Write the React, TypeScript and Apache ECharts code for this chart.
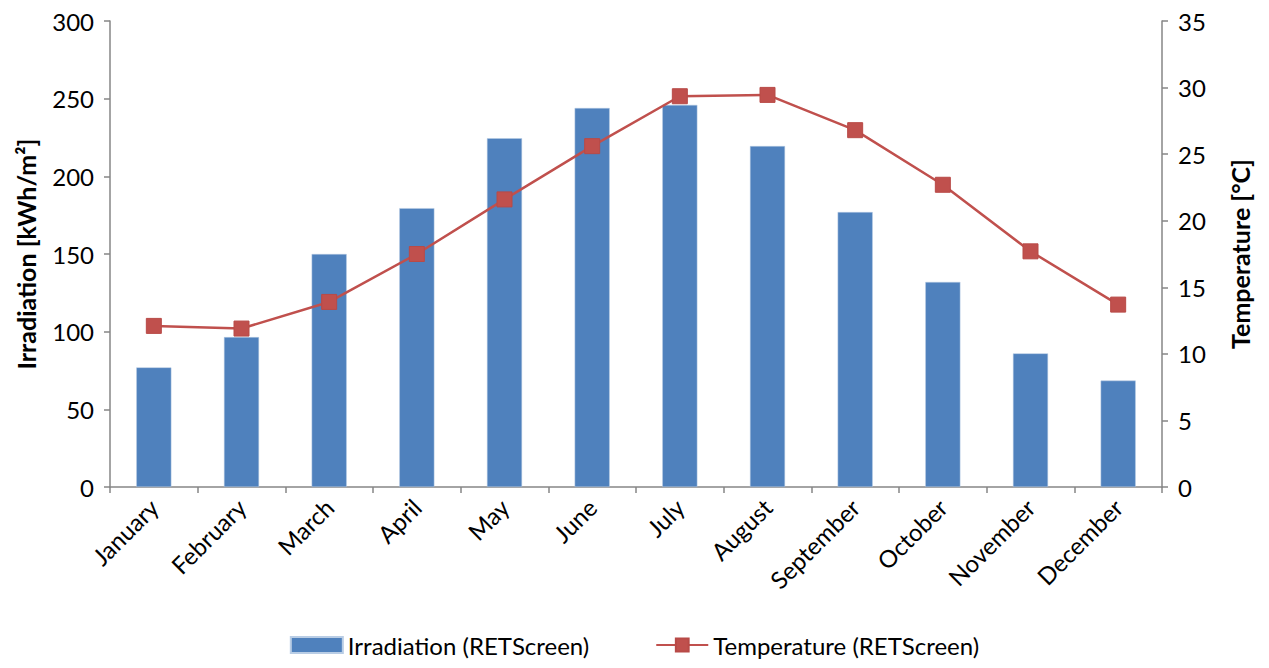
import React, { useEffect, useRef } from "react";
import * as echarts from "echarts";

const months = [
  "January", "February", "March", "April", "May", "June",
  "July", "August", "September", "October", "November", "December",
];
const irradiation = [77, 96.5, 150, 179.5, 224.5, 244, 246, 219.5, 177, 132, 86, 68.5];
const temperature = [12.1, 11.9, 13.9, 17.5, 21.6, 25.6, 29.35, 29.45, 26.8, 22.7, 17.7, 13.7];

const FONT = "Lato";
const AXIS_GRAY = "#868686";

export default function App() {
  const ref = useRef<HTMLDivElement>(null);

  useEffect(() => {
    if (!ref.current) return;
    const chart = echarts.init(ref.current, null, { renderer: "svg" });
    const axisLine = { show: true, lineStyle: { color: AXIS_GRAY, width: 1.5 } };
    const axisTick = { show: true, length: 6, lineStyle: { color: AXIS_GRAY, width: 1.5 } };
    const tickText = { fontFamily: FONT, fontSize: 24, color: "#000" };
    const nameText = { fontFamily: FONT, fontSize: 25, fontWeight: "bold", color: "#000" };
    chart.setOption({
      animation: false,
      textStyle: { fontFamily: FONT },
      grid: {
        left: 102,
        right: 99,
        top: 13,
        bottom: 173,
        containLabel: false,
        outerBoundsMode: "none",
      },
      legend: {
        top: 620,
        left: "center",
        itemGap: 66,
        itemWidth: 52,
        itemHeight: 16,
        textStyle: { fontFamily: FONT, fontSize: 24, color: "#000" },
        data: [
          { name: "Irradiation (RETScreen)", icon: "rect" },
          { name: "Temperature (RETScreen)" },
        ],
      },
      xAxis: {
        type: "category",
        data: months,
        axisLine,
        axisTick: { ...axisTick, alignWithLabel: false },
        axisLabel: { ...tickText, rotate: 45, margin: 16, interval: 0 },
      },
      yAxis: [
        {
          type: "value",
          min: 0,
          max: 300,
          interval: 50,
          name: "Irradiation [kWh/m²]",
          nameLocation: "middle",
          nameRotate: 90,
          nameGap: 72,
          nameTextStyle: nameText,
          axisLine,
          axisTick,
          splitLine: { show: false },
          axisLabel: { ...tickText, margin: 16 },
        },
        {
          type: "value",
          min: 0,
          max: 35,
          interval: 5,
          position: "right",
          name: "Temperature [°C]",
          nameLocation: "middle",
          nameRotate: 90,
          nameGap: 65,
          nameTextStyle: nameText,
          axisLine,
          axisTick,
          splitLine: { show: false },
          axisLabel: { ...tickText, margin: 16 },
        },
      ],
      series: [
        {
          name: "Irradiation (RETScreen)",
          type: "bar",
          data: irradiation,
          yAxisIndex: 0,
          barWidth: "40%",
          itemStyle: { color: "#4f81bd", borderColor: "#b9cde5", borderWidth: 0.5 },
        },
        {
          name: "Temperature (RETScreen)",
          type: "line",
          data: temperature,
          yAxisIndex: 1,
          symbol: "rect",
          symbolSize: 15,
          lineStyle: { color: "#c0504d", width: 2.5 },
          itemStyle: { color: "#c0504d", borderColor: "#b84a47", borderWidth: 1 },
        },
      ],
    });
    return () => chart.dispose();
  }, []);

  return <div ref={ref} style={{ width: 1253, height: 652 }} />;
}
